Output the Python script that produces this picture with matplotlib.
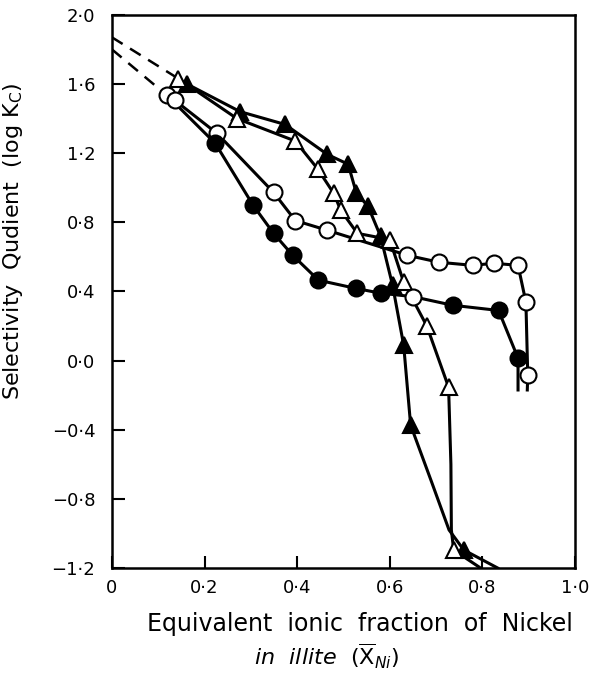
# Selectivity quotient vs equivalent ionic fraction of Ni in illite
import matplotlib.pyplot as plt

# filled triangles
tri_f_x = [0.162, 0.277, 0.374, 0.465, 0.510, 0.528, 0.553, 0.580, 0.606, 0.630, 0.645, 0.760]
tri_f_y = [1.60, 1.44, 1.366, 1.193, 1.136, 0.968, 0.893, 0.72, 0.436, 0.089, -0.373, -1.096]
tri_f_line_x = [0.162, 0.277, 0.374, 0.465, 0.510, 0.528, 0.553, 0.580, 0.606, 0.630, 0.645,
                0.690, 0.728, 0.760, 0.833]
tri_f_line_y = [1.60, 1.44, 1.366, 1.193, 1.136, 0.968, 0.893, 0.72, 0.436, 0.089, -0.373,
                -0.70, -0.98, -1.096, -1.20]

# open triangles
tri_o_x = [0.143, 0.270, 0.396, 0.444, 0.479, 0.494, 0.530, 0.600, 0.630, 0.680, 0.727, 0.738]
tri_o_y = [1.632, 1.40, 1.27, 1.11, 0.967, 0.87, 0.736, 0.70, 0.453, 0.20, -0.154, -1.096]
tri_o_line_x = [0.143, 0.270, 0.396, 0.444, 0.479, 0.494, 0.530, 0.600, 0.630, 0.680, 0.727,
                0.732, 0.733, 0.738, 0.796]
tri_o_line_y = [1.632, 1.40, 1.27, 1.11, 0.967, 0.87, 0.736, 0.70, 0.453, 0.20, -0.154,
                -0.60, -0.98, -1.096, -1.20]

# open circles
circ_o_x = [0.119, 0.136, 0.227, 0.349, 0.396, 0.465, 0.638, 0.706, 0.779, 0.825, 0.877, 0.894, 0.898, 0.650]
circ_o_y = [1.534, 1.505, 1.314, 0.973, 0.81, 0.754, 0.609, 0.569, 0.551, 0.563, 0.551, 0.338, -0.085, 0.37]
circ_o_line_x = [0.136, 0.227, 0.349, 0.396, 0.465, 0.638, 0.706, 0.779, 0.825, 0.877, 0.894, 0.898, 0.897]
circ_o_line_y = [1.505, 1.314, 0.973, 0.81, 0.754, 0.609, 0.569, 0.551, 0.563, 0.551, 0.338, -0.085, -0.17]

# filled circles
circ_f_x = [0.223, 0.305, 0.349, 0.390, 0.446, 0.526, 0.580, 0.736, 0.835, 0.877]
circ_f_y = [1.257, 0.898, 0.736, 0.61, 0.465, 0.418, 0.39, 0.32, 0.29, 0.014]
circ_f_line_x = [0.119, 0.223, 0.305, 0.349, 0.390, 0.446, 0.526, 0.580, 0.650, 0.736, 0.835, 0.877, 0.877]
circ_f_line_y = [1.534, 1.257, 0.898, 0.736, 0.61, 0.465, 0.418, 0.39, 0.37, 0.32, 0.29, 0.014, -0.17]

# dashed extrapolations to the axis
dash_up_x = [0.0, 0.143]
dash_up_y = [1.87, 1.632]
dash_lo_x = [0.0, 0.119]
dash_lo_y = [1.80, 1.534]

xticks = [0, 0.2, 0.4, 0.6, 0.8, 1.0]
xtick_labels = ['0', '0·2', '0·4', '0·6', '0·8', '1·0']
yticks = [2.0, 1.6, 1.2, 0.8, 0.4, 0.0, -0.4, -0.8, -1.2]
ytick_labels = ['2·0', '1·6', '1·2', '0·8', '0·4', '0·0', '−0·4', '−0·8', '−1·2']

fig = plt.figure(figsize=(5.91, 6.77), dpi=100)
ax = fig.add_axes([0.1895, 0.161, 0.7834, 0.817])

lw = 2.2
ax.plot(dash_up_x, dash_up_y, color='black', lw=1.8, ls=(0, (5, 3.5)))
ax.plot(dash_lo_x, dash_lo_y, color='black', lw=1.8, ls=(0, (5, 3.5)))

ax.plot(tri_f_line_x, tri_f_line_y, color='black', lw=lw)
ax.plot(tri_o_line_x, tri_o_line_y, color='black', lw=lw)
ax.plot(circ_o_line_x, circ_o_line_y, color='black', lw=lw)
ax.plot(circ_f_line_x, circ_f_line_y, color='black', lw=lw)

ax.plot(tri_f_x, tri_f_y, ls='none', marker='^', ms=11, mfc='black', mec='black', mew=1.5, zorder=3)
ax.plot(tri_o_x, tri_o_y, ls='none', marker='^', ms=11, mfc='white', mec='black', mew=1.5, zorder=3)
ax.plot(circ_o_x, circ_o_y, ls='none', marker='o', ms=11.5, mfc='white', mec='black', mew=1.5, zorder=3)
ax.plot(circ_f_x, circ_f_y, ls='none', marker='o', ms=11.5, mfc='black', mec='black', mew=1.5, zorder=3)

ax.set_xlim(0, 1.0)
ax.set_ylim(-1.2, 2.0)
ax.set_xticks(xticks)
ax.set_xticklabels(xtick_labels)
ax.set_yticks(yticks)
ax.set_yticklabels(ytick_labels)
ax.tick_params(axis='both', direction='in', length=9, width=1.5, labelsize=13)
ax.tick_params(axis='x', pad=8)
ax.tick_params(axis='y', pad=12)
for s in ax.spines.values():
    s.set_linewidth(1.8)

# axis titles placed to match the original layout
fig.text(360 / 591, 1 - 624 / 677, 'Equivalent  ionic  fraction  of  Nickel',
         fontsize=17, ha='center', va='center')
fig.text(327 / 591, 1 - 656 / 677, r'$\it{in\ \ illite}$  ($\overline{\mathrm{X}}_{Ni}$)',
         fontsize=16, ha='center', va='center')
ax.set_ylabel(r'Selectivity  Qudient  (log K$_\mathrm{C}$)', fontsize=16)
ax.yaxis.set_label_coords(-0.188, 0.59)

plt.savefig('out.png', dpi=100)
plt.close()
